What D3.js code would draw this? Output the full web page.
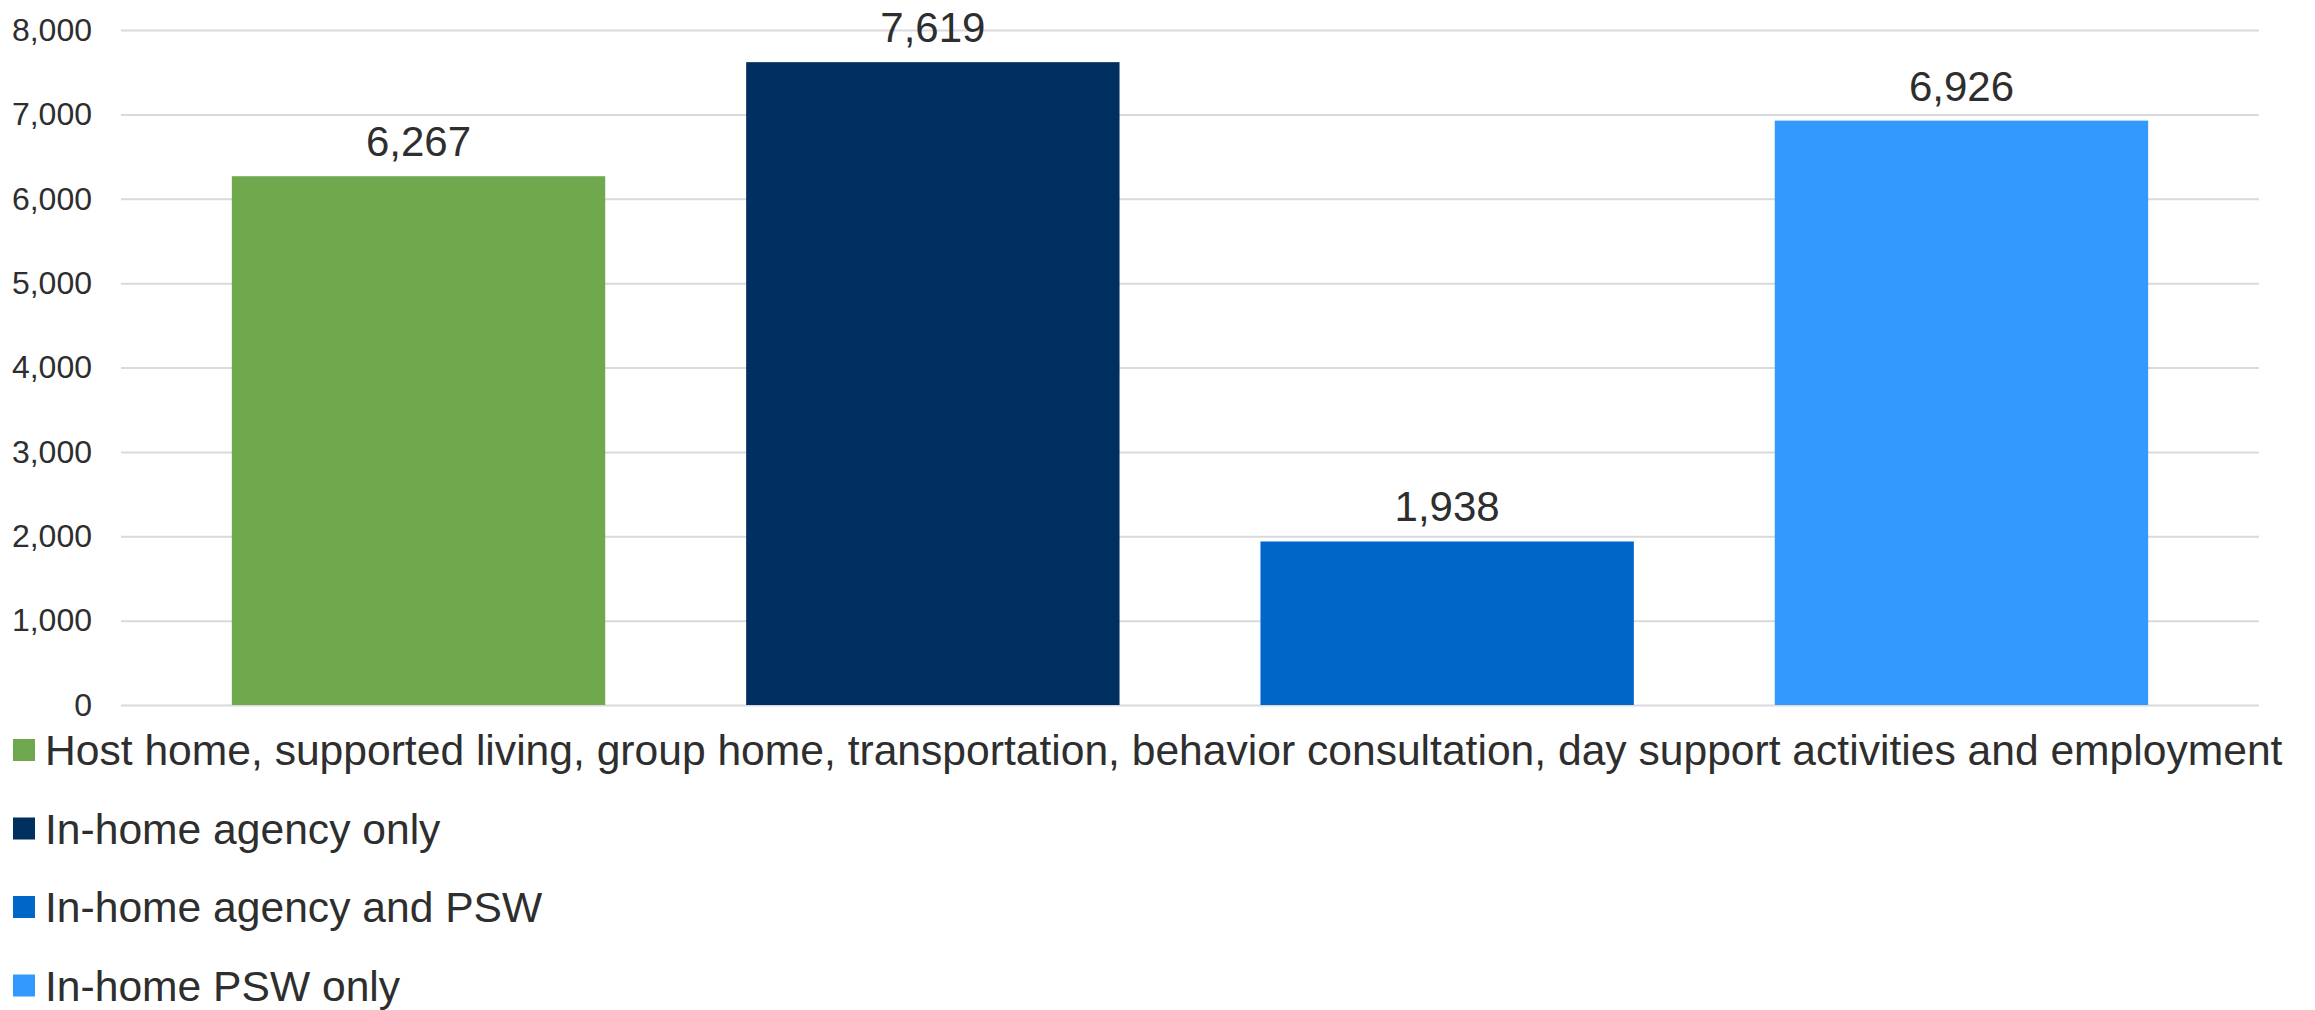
<!DOCTYPE html>
<html>
<head>
<meta charset="utf-8">
<script src="https://cdn.jsdelivr.net/npm/d3@7"></script>
<style>
  html, body { margin: 0; padding: 0; background: #fff; }
  svg { display: block; }
  text { font-family: "Liberation Sans", Arial, sans-serif; fill: #2E2E2E; }
</style>
</head>
<body>
<svg id="chart" width="2315" height="1010"></svg>
<script>
const categories = [
  "Host home, supported living, group home, transportation, behavior consultation, day support activities and employment",
  "In-home agency only",
  "In-home agency and PSW",
  "In-home PSW only"
];
const values = [6267, 7619, 1938, 6926];
const colors = ["#70A84E", "#00305F", "#0066C8", "#3399FF"];
const yTicks = [0, 1000, 2000, 3000, 4000, 5000, 6000, 7000, 8000];

const svg = d3.select("#chart");
const plot = { left: 121, right: 2259, top: 30, bottom: 705 };

const x = d3.scaleBand()
  .domain(categories)
  .range([plot.left, plot.right])
  .paddingInner(0.274)
  .paddingOuter(0.2155);

const y = d3.scaleLinear()
  .domain([0, 8000])
  .range([plot.bottom, plot.top]);

const fmt = d3.format(",");

// gridlines + tick labels
const yAxis = d3.axisLeft(y)
  .tickValues(yTicks)
  .tickSize(-(plot.right - plot.left))
  .tickPadding(29)
  .tickFormat(fmt);

const gy = svg.append("g")
  .attr("transform", `translate(${plot.left},0)`)
  .call(yAxis);
gy.select(".domain").remove();
gy.selectAll(".tick line").attr("stroke", "#D9D9DE").attr("stroke-width", 2);
gy.selectAll(".tick text")
  .attr("font-size", 32)
  .attr("fill", "#2E2E2E")
  .attr("font-family", "Liberation Sans, Arial, sans-serif");

// bars
svg.append("g").selectAll("rect")
  .data(categories)
  .join("rect")
  .attr("x", d => x(d))
  .attr("width", x.bandwidth())
  .attr("y", (d, i) => y(values[i]))
  .attr("height", (d, i) => y(0) - y(values[i]))
  .attr("fill", (d, i) => colors[i]);

// data labels
svg.append("g").selectAll("text")
  .data(categories)
  .join("text")
  .attr("x", d => x(d) + x.bandwidth() / 2)
  .attr("y", (d, i) => y(values[i]) - 20)
  .attr("text-anchor", "middle")
  .attr("font-size", 42)
  .text((d, i) => fmt(values[i]));

// legend
const legendTop = 750, legendStep = 78.5;
const lg = svg.append("g").selectAll("g")
  .data(categories)
  .join("g")
  .attr("transform", (d, i) => `translate(0,${legendTop + i * legendStep})`);
lg.append("rect")
  .attr("x", 13).attr("y", -11)
  .attr("width", 22).attr("height", 22)
  .attr("fill", (d, i) => colors[i]);
lg.append("text")
  .attr("x", 45)
  .attr("y", 0)
  .attr("dy", "0.36em")
  .attr("font-size", 42.6)
  .text(d => d);
</script>
</body>
</html>
